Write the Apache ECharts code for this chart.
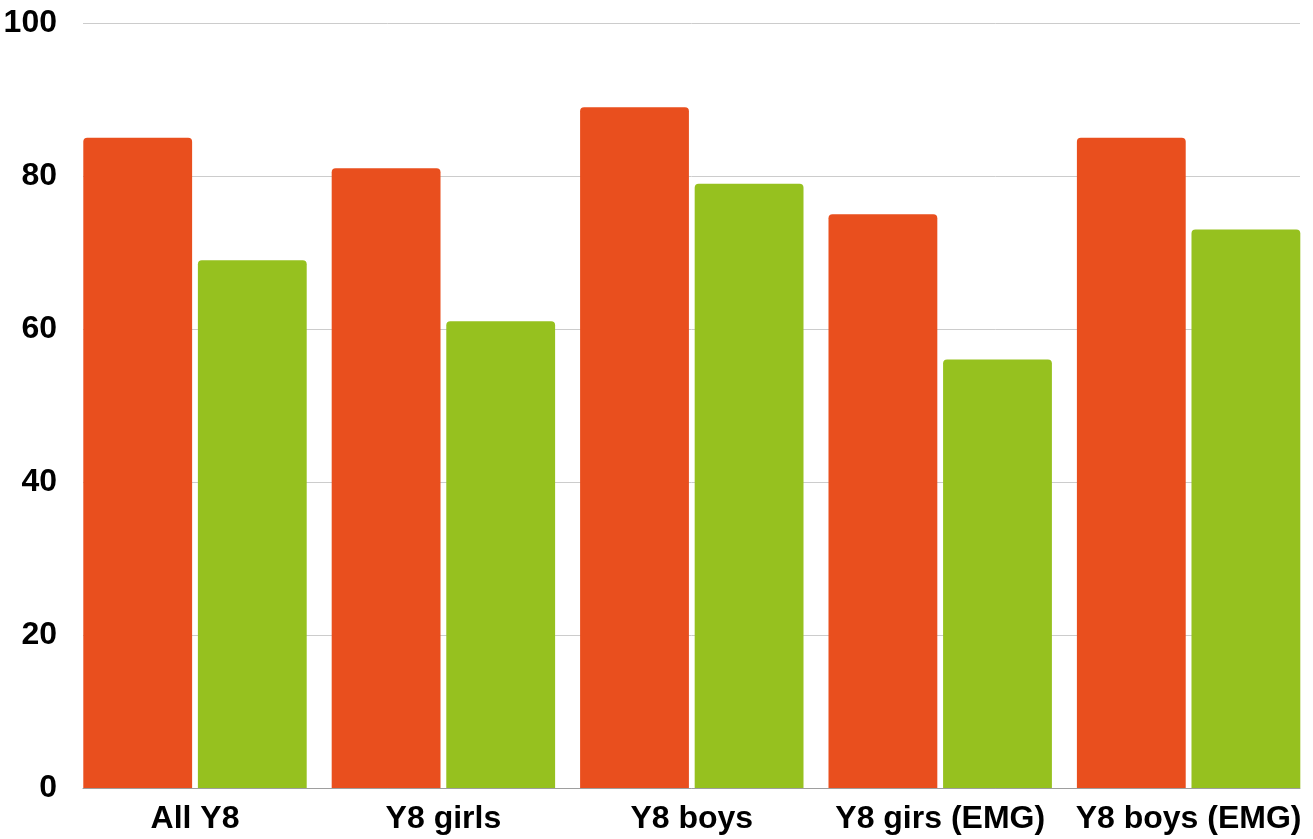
<!DOCTYPE html>
<html><head><meta charset="utf-8">
<script src="https://cdn.jsdelivr.net/npm/echarts@6.0.0/dist/echarts.min.js"></script>
<style>html,body{margin:0;padding:0;background:#fff}#c{width:1313px;height:839px}</style>
</head><body><div id="c"></div>
<script>
const categories = ['All Y8', 'Y8 girls', 'Y8 boys', 'Y8 girs (EMG)', 'Y8 boys (EMG)'];
const orangeValues = [85, 81, 89, 75, 85];
const greenValues = [69, 61, 79, 56, 73];
const yMin = 0, yMax = 100, yStep = 20;

const chart = echarts.init(document.getElementById('c'), null, {renderer: 'canvas'});
const font = {fontFamily: '"Liberation Sans", Arial, sans-serif', fontWeight: 'bold', fontSize: 32, color: '#000'};
chart.setOption({
  animation: false,
  backgroundColor: '#fff',
  grid: [
    {left: 70.8, right: 0.2, top: 23, bottom: 51},
    {left: 83, right: 13, top: 23, bottom: 51}
  ],
  xAxis: [
    {type: 'category', gridIndex: 0, data: categories,
     axisLine: {show: false}, axisTick: {show: false},
     axisLabel: Object.assign({margin: 15, interval: 0}, font)},
    {type: 'value', gridIndex: 1, min: 0, max: 1,
     axisLine: {show: true, lineStyle: {color: '#9e9e9e', width: 1}},
     axisTick: {show: false}, axisLabel: {show: false}, splitLine: {show: false}}
  ],
  yAxis: [
    {type: 'value', gridIndex: 0, min: yMin, max: yMax, interval: yStep, show: false},
    {type: 'value', gridIndex: 1, min: yMin, max: yMax, interval: yStep,
     axisLine: {show: false}, axisTick: {show: false},
     axisLabel: Object.assign({margin: 26, padding: [4, 0, 0, 0]}, font),
     splitLine: {show: true, lineStyle: {color: '#cccccc', width: 1}}}
  ],
  series: [
    {type: 'bar', xAxisIndex: 0, yAxisIndex: 0, data: orangeValues,
     barGap: '5.3%', barCategoryGap: '10.06%',
     itemStyle: {color: '#E94F1E', borderRadius: [4, 4, 0, 0]}},
    {type: 'bar', xAxisIndex: 0, yAxisIndex: 0, data: greenValues,
     barGap: '5.3%', barCategoryGap: '10.06%',
     itemStyle: {color: '#96C11F', borderRadius: [4, 4, 0, 0]}}
  ]
});
</script></body></html>
